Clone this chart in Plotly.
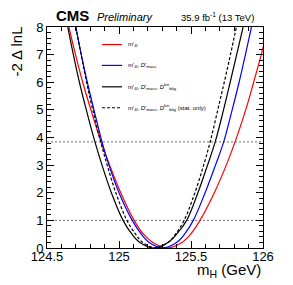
import plotly.graph_objects as go

# Likelihood scan readings: -2 Delta lnL vs m_H (GeV)
nll_levels = [8, 7, 6, 5, 3.84, 3, 2, 1, 0.5, 0.2, 0, 0.2, 0.5, 1, 2, 3, 3.84, 5, 6, 7, 8]

mh_m4l = [124.652, 124.698, 124.748, 124.805, 124.875, 124.935, 125.012, 125.105, 125.17, 125.235, 125.335,
          125.437, 125.497, 125.5625, 125.662, 125.745, 125.806, 125.88, 125.935, 125.988, 126.035]
nll_m4l = nll_levels

mh_m4l_dmass = [124.70, 124.738, 124.78, 124.826, 124.882, 124.93, 125.0, 125.092, 125.155, 125.21, 125.305,
                125.40, 125.455, 125.516, 125.598, 125.67, 125.727, 125.786, 125.834, 125.878, 125.92]
nll_m4l_dmass = nll_levels

mh_full = [124.644, 124.683, 124.725, 124.773, 124.833, 124.882, 124.947, 125.028, 125.09, 125.145, 125.24,
           125.34, 125.40, 125.47, 125.548, 125.615, 125.668, 125.726, 125.772, 125.817, 125.862]
nll_full = nll_levels

mh_stat = [124.70, 124.737, 124.775, 124.818, 124.873, 124.918, 124.978, 125.055, 125.115, 125.165, 125.255,
           125.34, 125.392, 125.452, 125.527, 125.588, 125.633, 125.686, 125.731, 125.774, 125.815]
nll_stat = nll_levels

ref_levels = [1, 3.84]
x_ticks = [124.5, 125, 125.5, 126]
x_tick_labels = ["124.5", "125", "125.5", "126"]
y_ticks = [0, 1, 2, 3, 4, 5, 6, 7, 8]

legend_labels = [
    "m'<sub>4l</sub>",
    "m'<sub>4l</sub>, <i>D</i>'<sub>mass</sub>",
    "m'<sub>4l</sub>, <i>D</i>'<sub>mass</sub>, <i>D</i><sup>kin</sup><sub>bkg</sub>",
    "m'<sub>4l</sub>, <i>D</i>'<sub>mass</sub>, <i>D</i><sup>kin</sup><sub>bkg</sub> (stat. only)",
]

series = [
    (mh_m4l, nll_m4l, "#ff0000", "solid"),
    (mh_m4l_dmass, nll_m4l_dmass, "#0000ff", "solid"),
    (mh_full, nll_full, "#000000", "solid"),
    (mh_stat, nll_stat, "#000000", "3px,2px"),
]

FONT = "Liberation Sans, Arial, Helvetica, sans-serif"

fig = go.Figure()

for lv in ref_levels:
    fig.add_trace(go.Scatter(x=[124.5, 126], y=[lv, lv], mode="lines",
                             line=dict(color="#444444", width=0.8, dash="2px,2px"),
                             showlegend=False, hoverinfo="skip"))

for (x, y, col, dash), name in zip(series, legend_labels):
    fig.add_trace(go.Scatter(x=x, y=y, mode="lines", name=name,
                             line=dict(color=col, width=1.2, dash=dash, shape="spline", smoothing=1.0),
                             showlegend=False))

# the page body adds an 8px offset; lay out in screen pixels and compensate
OFF = 8
W, H = 285, 277
L, R, T, B = 39, 30, 12.5, 37.3
pw, ph = W - L - R, H - T - B

def px(xs):
    return (xs - OFF - L) / pw

def py(ys):
    return (H - B - (ys - OFF)) / ph

fig.update_layout(
    width=W, height=H,
    margin=dict(l=L, r=R, t=T, b=B, pad=0),
    paper_bgcolor="white", plot_bgcolor="white",
    font=dict(family=FONT, color="black", size=13),
    showlegend=False,
)

axis_common = dict(
    showgrid=False, zeroline=False, showline=True, linecolor="black", linewidth=1,
    mirror="allticks", ticks="inside", ticklen=7, tickcolor="black", tickwidth=1,
    tickfont=dict(family=FONT, size=13, color="black"),
)

fig.update_xaxes(range=[124.5, 126], tickvals=x_ticks, ticktext=x_tick_labels,
                 ticklabelstandoff=-4,
                 minor=dict(dtick=0.1, ticks="inside", ticklen=4, tickcolor="black", showgrid=False),
                 **axis_common)
fig.update_yaxes(range=[0, 8], tickvals=y_ticks,
                 minor=dict(dtick=0.2, ticks="inside", ticklen=4, tickcolor="black", showgrid=False),
                 **axis_common)

ann = []
ann.append(dict(x=px(263), y=py(271), xref="paper", yref="paper", xanchor="right", yanchor="middle",
                text="m<sub>H</sub> (GeV)", showarrow=False, font=dict(size=15)))
ann.append(dict(x=px(17), y=py(18), xref="paper", yref="paper", xanchor="center", yanchor="top",
                text="-2 \u0394 lnL", textangle=-90, showarrow=False, font=dict(size=15)))
ann.append(dict(x=px(54), y=py(9), xref="paper", yref="paper", xanchor="left", yanchor="middle",
                text="<b>CMS</b>", showarrow=False, font=dict(size=15)))
ann.append(dict(x=px(95), y=py(10), xref="paper", yref="paper", xanchor="left", yanchor="middle",
                text="<i>Preliminary</i>", showarrow=False, font=dict(size=11)))
ann.append(dict(x=px(256), y=py(10), xref="paper", yref="paper", xanchor="right", yanchor="middle",
                text="35.9 fb<sup>-1</sup> (13 TeV)", showarrow=False, font=dict(size=9.5)))

shapes = []
rows = [38.5, 60, 82, 103.5]
for (x, y, col, dash), name, ry in zip(series, legend_labels, rows):
    shapes.append(dict(type="line", xref="paper", yref="paper",
                       x0=px(102), x1=px(122), y0=py(ry), y1=py(ry),
                       line=dict(color=col, width=1.2, dash=dash)))
    ann.append(dict(x=px(126), y=py(ry), xref="paper", yref="paper", xanchor="left", yanchor="middle",
                    text=name, showarrow=False, font=dict(size=6)))

fig.update_layout(annotations=ann, shapes=shapes)
fig.write_html("out.html")
